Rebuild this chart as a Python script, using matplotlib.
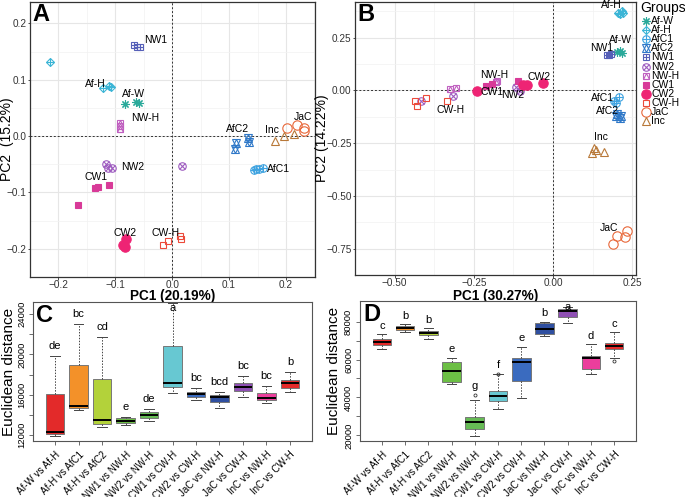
import numpy as np
import matplotlib.pyplot as plt

plt.rcParams['font.family'] = ['Liberation Sans', 'DejaVu Sans']

# groups used in the two PCA plots
groups = ['Af-W', 'Af-H', 'AfC1', 'AfC2', 'NW1', 'NW2', 'NW-H', 'CW1', 'CW2', 'CW-H', 'JaC', 'Inc']
group_colors = ['#2aa99a', '#3bb5d6', '#3fa3e0', '#2f78c8', '#5660b8', '#9e5cc0',
                '#c060c0', '#d83a98', '#ee2474', '#ec4a3a', '#e8683a', '#b87838']

# panel A scores (one list per group)
pca_a_x = [[-0.083, -0.063, -0.059],
           [-0.214, -0.121, -0.111, -0.108],
           [0.144, 0.147, 0.152, 0.160],
           [0.112, 0.110, 0.134, 0.135],
           [-0.067, -0.062, -0.056],
           [-0.116, -0.113, -0.106, 0.018],
           [-0.091, -0.091, -0.091],
           [-0.166, -0.136, -0.130, -0.112],
           [-0.082, -0.086, -0.083],
           [-0.016, -0.008, 0.013, 0.015],
           [0.202, 0.220, 0.231, 0.232],
           [0.180, 0.196, 0.214]]
pca_a_y = [[0.057, 0.061, 0.059],
           [0.132, 0.086, 0.089, 0.088],
           [-0.060, -0.059, -0.058, -0.057],
           [-0.013, -0.022, -0.004, -0.011],
           [0.161, 0.159, 0.158],
           [-0.050, -0.056, -0.057, -0.053],
           [0.023, 0.018, 0.013],
           [-0.122, -0.092, -0.091, -0.086],
           [-0.183, -0.194, -0.197],
           [-0.193, -0.186, -0.178, -0.183],
           [0.015, 0.019, 0.009, 0.014],
           [-0.009, 0.000, 0.003]]

# panel B scores
pca_b_x = [[0.203, 0.210, 0.217],
           [0.206, 0.217, 0.222, 0.212],
           [0.208, 0.194, 0.198],
           [0.203, 0.212, 0.198, 0.215],
           [0.170, 0.178, 0.184],
           [-0.416, -0.317, -0.116, -0.103],
           [-0.324, -0.306, -0.181, -0.177],
           [-0.212, -0.193, -0.109],
           [-0.240, -0.095, -0.083, -0.031],
           [-0.437, -0.428, -0.402, -0.336],
           [0.189, 0.203, 0.227, 0.233],
           [0.128, 0.137, 0.123, 0.161]]
pca_b_y = [[0.184, 0.188, 0.179],
           [0.368, 0.375, 0.365, 0.361],
           [-0.030, -0.052, -0.060],
           [-0.111, -0.131, -0.119, -0.119],
           [0.166, 0.169, 0.173],
           [-0.052, -0.027, 0.014, -0.001],
           [0.007, 0.011, 0.041, 0.044],
           [0.021, 0.029, 0.044],
           [-0.005, 0.024, 0.024, 0.033],
           [-0.052, -0.074, -0.038, -0.052],
           [-0.726, -0.690, -0.697, -0.667],
           [-0.274, -0.284, -0.296, -0.291]]

# boxplot data (C and D)
comparisons = ['Af-W vs Af-H', 'Af-H vs AfC1', 'Af-H vs AfC2', 'NW1 vs NW-H', 'NW2 vs NW-H',
               'CW1 vs CW-H', 'CW2 vs CW-H', 'JaC vs NW-H', 'JaC vs CW-H', 'InC vs NW-H', 'InC vs CW-H']
box_colors = ['#e32a2a', '#f39129', '#b3d23a', '#6cbf45', '#66bb55', '#67c8d2',
              '#3a6bbf', '#2f4fa0', '#8f50b4', '#ec3e9c', '#e52a2a']

c_whislo = [11933, 14479, 12826, 13024, 13388, 16198, 15437, 14644, 15801, 15140, 16231]
c_q1 = [12065, 14644, 13090, 13189, 13652, 16793, 15801, 15239, 16363, 15437, 16694]
c_med = [12264, 14875, 13487, 13420, 13983, 17123, 16066, 15768, 16793, 15702, 17123]
c_q3 = [16066, 18909, 17520, 13652, 14313, 20826, 16297, 15966, 17123, 16198, 17454]
c_whishi = [19867, 23008, 21686, 13751, 14545, 25058, 16628, 16231, 17884, 16892, 18214]
c_fliers = [[], [], [], [], [], [], [], [], [], [], []]
c_letters = ['de', 'bc', 'cd', 'e', 'de', 'a', 'bc', 'bcd', 'bc', 'bc', 'b']

d_whislo = [65351, 74352, 70822, 47347, 19637, 33757, 39935, 72587, 79118, 52290, 60585]
d_q1 = [67645, 75764, 72940, 48230, 23167, 37993, 48760, 73470, 82295, 54937, 65351]
d_med = [69410, 76823, 74175, 53878, 27050, 40817, 58820, 76117, 85648, 60585, 67115]
d_q3 = [70822, 77706, 75058, 58820, 29698, 43465, 60938, 79118, 86707, 61821, 68880]
d_whishi = [73293, 78588, 76470, 60938, 38875, 52113, 66763, 80000, 87590, 68000, 74352]
d_fliers = [[], [], [], [], [41170], [52290], [], [], [], [], [59173]]
d_letters = ['c', 'b', 'b', 'e', 'g', 'f', 'e', 'b', 'a', 'd', 'c']

# marker recipe per group: (marker, filled, size factor)
shapes = {
    'Af-W': [((8, 2, 0), False, 1.1)],
    'Af-H': [('D', False, 0.75), ('+', False, 1.05)],
    'AfC1': [('o', False, 1.0), ('+', False, 1.0)],
    'AfC2': [('^', False, 1.0), ('v', False, 1.0)],
    'NW1': [('s', False, 0.9), ('+', False, 0.9)],
    'NW2': [('o', False, 1.0), ('x', False, 0.7)],
    'NW-H': [('s', False, 0.9), ('^', False, 0.9)],
    'CW1': [('s', True, 0.85)],
    'CW2': [('o', True, 1.25)],
    'CW-H': [('s', False, 0.9)],
    'JaC': [('o', False, 1.25)],
    'Inc': [('^', False, 1.0)],
}

# label offsets (points) from each group's centroid
label_off_a = {'Af-W': (0, 6.5), 'Af-H': (1.2, -2.7), 'AfC1': (15, 0), 'AfC2': (-3, 10.5),
               'NW1': (13.5, 4.5), 'NW2': (4, 0), 'NW-H': (18, 6), 'CW1': (1, 10.5),
               'CW2': (0, 8), 'CW-H': (-5, 5), 'JaC': (3.5, 8), 'Inc': (-8.5, 5)}
label_off_b = {'Af-W': (0.5, 8.3), 'Af-H': (-7, 6), 'AfC1': (-10, 2), 'AfC2': (-8, 3.7),
               'NW1': (-5.5, 4.7), 'NW2': (25, -1), 'NW-H': (14, 7), 'CW1': (-4.5, -5.7),
               'CW2': (15.5, 7), 'CW-H': (18, -6.2), 'JaC': (-8, 6.2), 'Inc': (3, 9.8)}

MS = 5.4


def draw_marker(ax, x, y, g, col, ms=MS, **kw):
    for m, filled, f in shapes[g]:
        ax.plot(x, y, ls='none', marker=m, ms=ms * f, mec=col,
                mfc=col if filled else 'none', mew=0.8, **kw)


def minus(s):
    return s.replace('-', '\u2212')


def pca_panel(ax, xs, ys, offsets, xticks, yticks, xlim, ylim, fmt, xlabel, ylabel, letter,
              ylab_x, xlab_y):
    for g, x, y, col in zip(groups, xs, ys, group_colors):
        draw_marker(ax, x, y, g, col, zorder=3)
        dx, dy = offsets[g]
        ax.annotate(g, (np.mean(x), np.mean(y)), xytext=(dx, dy), textcoords='offset points',
                    ha='center', va='center', fontsize=7.5, zorder=5)
    ax.axhline(0, color='#333333', ls=(0, (2, 2)), lw=0.7, zorder=2)
    ax.axvline(0, color='#333333', ls=(0, (2, 2)), lw=0.7, zorder=2)
    ax.set_xlim(xlim)
    ax.set_ylim(ylim)
    ax.set_xticks(xticks)
    ax.set_yticks(yticks)
    ax.set_xticklabels([minus(fmt % v) for v in xticks])
    ax.set_yticklabels([minus(fmt % v) for v in yticks])
    sx = xticks[1] - xticks[0]
    sy = yticks[1] - yticks[0]
    ax.set_xticks(np.arange(xticks[0] - sx / 2, xlim[1], sx), minor=True)
    ax.set_yticks(np.arange(yticks[0] - sy / 2, ylim[1], sy), minor=True)
    ax.grid(which='major', color='#e6e6e6', lw=0.8, zorder=0)
    ax.grid(which='minor', color='#f2f2f2', lw=0.5, zorder=0)
    ax.set_axisbelow(True)
    ax.tick_params(which='major', length=1.8, width=0.6, color='#333333', pad=0.6,
                   labelsize=7.2, labelcolor='#333333')
    ax.tick_params(which='minor', length=0)
    for sp in ax.spines.values():
        sp.set_color('#333333')
        sp.set_linewidth(0.9)
    ax.set_xlabel(xlabel, fontsize=9.8, fontweight='bold')
    ax.set_ylabel(ylabel, fontsize=10)
    ax.xaxis.set_label_coords(0.5, xlab_y)
    ax.yaxis.set_label_coords(ylab_x, 0.5)
    ax.text(0.01, 0.995, letter, transform=ax.transAxes, fontsize=17, fontweight='bold',
            ha='left', va='top')


def box_panel(ax, lo, q1, med, q3, hi, fliers, letters, ylim, yticks, ylabels, letter, off,
              ylab_x):
    stats = [dict(whislo=a, q1=b, med=c, q3=d, whishi=e, fliers=f)
             for a, b, c, d, e, f in zip(lo, q1, med, q3, hi, fliers)]
    pos = np.arange(1, len(stats) + 1)
    bp = ax.bxp(stats, positions=pos, widths=0.8, patch_artist=True, showfliers=True,
                boxprops=dict(edgecolor='#777777', linewidth=0.7),
                whiskerprops=dict(color='#444444', linestyle=(0, (1.5, 1.5)), linewidth=0.7),
                capprops=dict(color='#444444', linewidth=0.7),
                medianprops=dict(color='black', linewidth=1.4),
                flierprops=dict(marker='o', ms=2.2, mfc='none', mec='#333333', mew=0.6),
                capwidths=0.4)
    for patch, col in zip(bp['boxes'], box_colors):
        patch.set_facecolor(col)
    for p, h, f, t in zip(pos, hi, fliers, letters):
        top = max([h] + f)
        y = min(top + off, ylim[1] - 0.04 * (ylim[1] - ylim[0]))
        ax.text(p, y, t, ha='center', va='center', fontsize=8)
    ax.set_xlim(0.06, len(stats) + 0.94)
    ax.set_ylim(ylim)
    ax.set_yticks(yticks)
    ax.set_yticklabels(ylabels, rotation=90, va='center', fontsize=6.8)
    ax.set_xticks(pos)
    ax.set_xticklabels(comparisons, rotation=45, ha='right', rotation_mode='anchor', fontsize=7)
    ax.tick_params(length=3, width=0.6, color='#555555', pad=2)
    ax.tick_params(axis='x', pad=3)
    for sp in ax.spines.values():
        sp.set_color('#555555')
        sp.set_linewidth(0.8)
    ax.set_ylabel('Euclidean distance', fontsize=11)
    ax.yaxis.set_label_coords(ylab_x, 0.5)
    ax.text(0.012, 0.985, letter, transform=ax.transAxes, fontsize=17, fontweight='bold',
            ha='left', va='top')


W, H = 685, 497
fig = plt.figure(figsize=(W / 100, H / 100), dpi=100)

axA = fig.add_axes([30 / W, 1 - 277 / H, 285 / W, 275 / H])
pca_panel(axA, pca_a_x, pca_a_y, label_off_a, [-0.2, -0.1, 0.0, 0.1, 0.2],
          [-0.2, -0.1, 0.0, 0.1, 0.2], (-0.235, 0.251), (-0.22, 0.238), '%.1f',
          'PC1 (20.19%)', 'PC2  (15.2%)', 'A', (14 - 30) / 285, (277 - 289) / 275)

axB = fig.add_axes([355 / W, 1 - 275 / H, 281 / W, 273 / H])
pca_panel(axB, pca_b_x, pca_b_y, label_off_b, [-0.5, -0.25, 0.0, 0.25],
          [-0.75, -0.5, -0.25, 0.0, 0.25], (-0.528, 0.262), (-0.79, 0.419), '%.2f',
          'PC1 (30.27%)', 'PC2 (14.22%)', 'B', (329 - 355) / 281, (275 - 289) / 273)

# legend drawn by hand at the right edge
fig.text(640 / W, 1 - 8 / H, 'Groups', fontsize=10, ha='left', va='center')
for i, (g, col) in enumerate(zip(groups, group_colors)):
    yf = 1 - (21 + i * 9.1) / H
    lx = fig.add_axes([641 / W, yf - 4.5 / H, 10 / W, 9 / H])
    lx.set_xlim(-1, 1)
    lx.set_ylim(-1, 1)
    lx.axis('off')
    draw_marker(lx, [0], [0], g, col, ms=5.4, clip_on=False)
    fig.text(651 / W, yf, g, fontsize=7.5, ha='left', va='center')

axC = fig.add_axes([33 / W, 56 / H, 279 / W, 139 / H])
box_panel(axC, c_whislo, c_q1, c_med, c_q3, c_whishi, c_fliers, c_letters,
          (11400, 25200), np.arange(12000, 24001, 2000),
          ['12000', '', '16000', '', '20000', '', '24000'], 'C', 1000, (16 - 33) / 279)

axD = fig.add_axes([360 / W, 56 / H, 276 / W, 140 / H])
box_panel(axD, d_whislo, d_q1, d_med, d_q3, d_whishi, d_fliers, d_letters,
          (17000, 90900), np.arange(20000, 80001, 10000),
          ['20000', '', '40000', '', '60000', '', '80000'], 'D', 4600, (341 - 360) / 276)

fig.savefig('out.png', dpi=100)
